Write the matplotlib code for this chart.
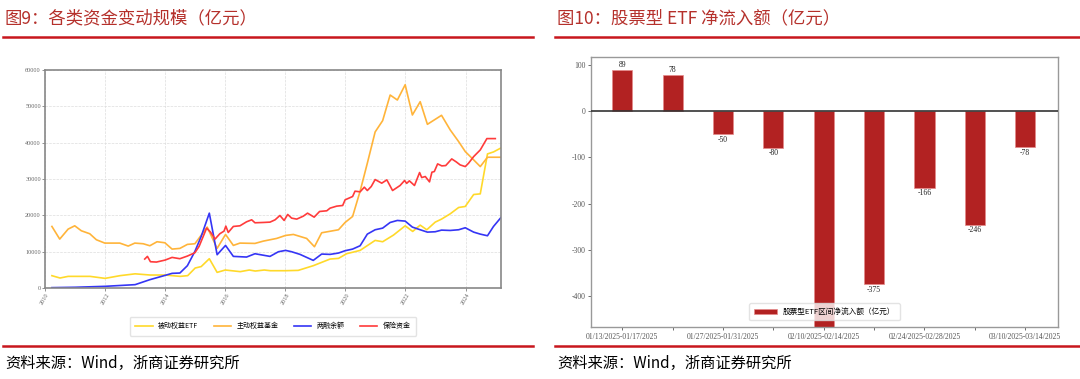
import matplotlib
matplotlib.use("Agg")
import matplotlib.pyplot as plt
from matplotlib.lines import Line2D

plt.rcParams['font.family'] = ['Noto Sans CJK SC', 'DejaVu Sans']

# ---- left chart data (decimal year, 亿元) ----
etf_t = [2010.23, 2010.5, 2010.77, 2011.5, 2012.0, 2012.5, 2013.0, 2013.5, 2014.0, 2014.5,
         2014.75, 2015.0, 2015.2, 2015.47, 2015.73, 2016.0, 2016.5, 2016.8, 2017.0, 2017.3,
         2017.5, 2018.0, 2018.43, 2018.93, 2019.49, 2019.77, 2020.04, 2020.49, 2020.99, 2021.24,
         2021.6, 2021.99, 2022.24, 2022.49, 2022.71, 2022.99, 2023.2, 2023.49, 2023.77, 2023.99,
         2024.27, 2024.49, 2024.73, 2024.93, 2025.18]
etf_v = [3390, 2750, 3200, 3200, 2650, 3400, 3900, 3570, 3570, 3200,
         3400, 5500, 5900, 8060, 4300, 4950, 4500, 4950, 4670, 4950,
         4760, 4760, 4850, 6140, 7970, 8150, 9430, 10350, 13100, 12730,
         14560, 17120, 15570, 17300, 16030, 18130, 18960, 20420, 22160, 22440,
         25730, 25910, 36900, 37450, 38550]

fund_t = [2010.23, 2010.49, 2010.77, 2010.99, 2011.21, 2011.49, 2011.71, 2011.99, 2012.49, 2012.77,
          2012.99, 2013.27, 2013.49, 2013.73, 2013.99, 2014.23, 2014.49, 2014.74, 2014.99, 2015.4,
          2015.73, 2016.01, 2016.27, 2016.49, 2016.99, 2017.27, 2017.71, 2018.01, 2018.27, 2018.71,
          2018.97, 2019.21, 2019.77, 2019.99, 2020.24, 2020.49, 2020.73, 2020.99, 2021.24, 2021.49,
          2021.73, 2021.99, 2022.23, 2022.49, 2022.73, 2023.2, 2023.49, 2023.77, 2023.99, 2024.27,
          2024.49, 2024.73, 2025.18]
fund_v = [16940, 13460, 16210, 17120, 15750, 14930, 13280, 12360, 12360, 11540,
          12360, 12180, 11630, 12730, 12450, 10710, 10900, 12000, 12180, 16760,
          10900, 14740, 11720, 12360, 12270, 12910, 13640, 14470, 14740, 13640,
          11360, 15200, 16030, 18040, 19690, 26650, 34340, 42950, 46060, 53110,
          51740, 55950, 47620, 51280, 45050, 47530, 43500, 40290, 37550, 35260,
          33420, 35990, 35990]

margin_t = [2010.23, 2011.0, 2012.0, 2013.0, 2013.49, 2014.0, 2014.23, 2014.49, 2014.74, 2014.99,
            2015.2, 2015.47, 2015.73, 2016.01, 2016.27, 2016.71, 2016.99, 2017.49, 2017.77, 2018.01,
            2018.21, 2018.49, 2018.93, 2019.21, 2019.49, 2019.77, 2019.99, 2020.24, 2020.49, 2020.73,
            2020.99, 2021.24, 2021.49, 2021.73, 2021.99, 2022.23, 2022.49, 2022.73, 2022.99, 2023.2,
            2023.49, 2023.77, 2023.99, 2024.27, 2024.49, 2024.73, 2024.93, 2025.18]
margin_v = [100, 200, 460, 920, 2290, 3480, 4030, 4120, 6140, 10070,
            14200, 20600, 9160, 11720, 8700, 8520, 9430, 8700, 9980, 10350,
            9980, 9250, 7600, 9340, 9250, 9620, 10260, 10710, 11630, 14830,
            16030, 16480, 18040, 18590, 18410, 16760, 16030, 15380, 15480, 15930,
            15840, 16030, 16580, 15380, 14830, 14380, 16940, 19410]

ins_t = [2013.32, 2013.41, 2013.51, 2013.71, 2014.0, 2014.23, 2014.49, 2014.74, 2014.99, 2015.13,
         2015.38, 2015.51, 2015.66, 2015.82, 2015.96, 2016.02, 2016.1, 2016.27, 2016.49, 2016.71,
         2016.88, 2016.99, 2017.27, 2017.49, 2017.66, 2017.82, 2017.96, 2018.08, 2018.21, 2018.38,
         2018.6, 2018.74, 2018.96, 2019.14, 2019.38, 2019.49, 2019.71, 2019.91, 2019.99, 2020.24,
         2020.32, 2020.49, 2020.63, 2020.73, 2020.86, 2020.99, 2021.21, 2021.38, 2021.57, 2021.82,
         2021.97, 2022.04, 2022.13, 2022.3, 2022.47, 2022.54, 2022.66, 2022.8, 2022.88, 2022.96,
         2023.07, 2023.21, 2023.34, 2023.54, 2023.69, 2023.82, 2023.99, 2024.1, 2024.27, 2024.49,
         2024.71, 2024.99]
ins_v = [7970, 8700, 7230, 7140, 7690, 8420, 8060, 8790, 9710, 11450,
         16480, 15380, 13460, 14930, 15660, 17030, 15290, 16940, 17120, 18220,
         18770, 17950, 18040, 18130, 18770, 19960, 18590, 20240, 19230, 18960,
         19780, 20600, 19500, 21060, 21250, 21980, 22530, 22710, 24270, 25180,
         26650, 26470, 27750, 26830, 27930, 29850, 28850, 29760, 26830, 28210,
         29580, 28800, 29490, 28210, 31780, 30400, 30680, 29210, 31870, 32050,
         34160, 33610, 33700, 35530, 34710, 33880, 33420, 34340, 36170, 38000,
         41120, 41120]

series_names = ['被动权益ETF', '主动权益基金', '两融余额', '保险资金']
year_ticks = [2010, 2012, 2014, 2016, 2018, 2020, 2022, 2024]

# ---- right chart data ----
weeks = ['01/13/2025-01/17/2025', '01/20/2025-01/24/2025', '01/27/2025-01/31/2025',
         '02/03/2025-02/07/2025', '02/10/2025-02/14/2025', '02/17/2025-02/21/2025',
         '02/24/2025-02/28/2025', '03/03/2025-03/07/2025', '03/10/2025-03/14/2025']
flows = [89, 78, -50, -80, -520, -375, -166, -246, -78]

title_red = '#B5302B'
rule_red = '#C8161D'
serif = ['Liberation Serif', 'DejaVu Serif']

fig = plt.figure(figsize=(10.8, 3.79), dpi=100)

# titles and rules
fig.text(5 / 1080, 1 - 18 / 379, '图9：各类资金变动规模（亿元）', fontsize=12.5,
         color=title_red, va='center', ha='left')
fig.text(557 / 1080, 1 - 18 / 379, '图10：股票型 ETF 净流入额（亿元）', fontsize=12.5,
         color=title_red, va='center', ha='left')
for x0, x1 in [(3, 533), (555, 1080)]:
    fig.add_artist(Line2D([x0 / 1080, x1 / 1080], [1 - 37 / 379] * 2, color=rule_red, lw=1.8))
    fig.add_artist(Line2D([x0 / 1080, x1 / 1080], [1 - 346 / 379] * 2, color=rule_red, lw=1.8))
fig.text(5 / 1080, 1 - 363 / 379, '资料来源：Wind，浙商证券研究所', fontsize=11,
         color='black', va='center', ha='left')
fig.text(557 / 1080, 1 - 363 / 379, '资料来源：Wind，浙商证券研究所', fontsize=11,
         color='black', va='center', ha='left')

# ---- left chart ----
ax1 = fig.add_axes([45 / 1080, 1 - 288 / 379, 456 / 1080, 218 / 379])
ax1.plot(etf_t, etf_v, color='#FFD92A', lw=1.2, label=series_names[0])
ax1.plot(fund_t, fund_v, color='#FFB43A', lw=1.2, label=series_names[1])
ax1.plot(margin_t, margin_v, color='#3535F5', lw=1.2, label=series_names[2])
ax1.plot(ins_t, ins_v, color='#FF3B3B', lw=1.2, label=series_names[3])
ax1.set_xlim(2010, 2025.18)
ax1.set_ylim(0, 60000)
ax1.set_xticks(year_ticks)
ax1.set_xticklabels([str(y) for y in year_ticks], rotation=60, fontsize=4.5, family=serif,
                    color='#444444')
ax1.set_yticks(range(0, 60001, 10000))
ax1.set_yticklabels([str(v) for v in range(0, 60001, 10000)], fontsize=4.5, family=serif,
                    color='#444444')
ax1.tick_params(length=2, width=0.5, pad=1, colors='#666666')
ax1.grid(True, ls='--', lw=0.5, color='#DDDDDD')
for s in ax1.spines.values():
    s.set_color('#888888')
    s.set_linewidth(1.2)
ax1.legend(loc='upper center', bbox_to_anchor=(0.5, -0.115), ncol=4, fontsize=5,
           frameon=True, edgecolor='#DDDDDD', handlelength=2.5, columnspacing=2.2,
           borderpad=0.8)

# ---- right chart ----
ax2 = fig.add_axes([591 / 1080, 1 - 327 / 379, 467 / 1080, 270 / 379])
xs = list(range(len(flows)))
bars = ax2.bar(xs, flows, width=0.4, color='#B22222', edgecolor='#E58A8A', lw=0.5,
               label='股票型ETF区间净流入额（亿元）', zorder=2)
ax2.axhline(0, color='#333333', lw=1.2, zorder=3)
ax2.set_xlim(-0.62, 8.65)
ax2.set_ylim(-467, 117)
for x, v in zip(xs, flows):
    ax2.text(x, v + (2 if v > 0 else -3), str(v), ha='center', va='bottom' if v > 0 else 'top',
             fontsize=5.5, family=serif, color='#222222', clip_on=True)
ax2.set_xticks(xs)
ax2.set_xticklabels([w if i % 2 == 0 else '' for i, w in enumerate(weeks)], fontsize=5.5,
                    family=serif, color='#333333')
ax2.set_yticks([100, 0, -100, -200, -300, -400])
ax2.set_yticklabels(['100', '0', '-100', '-200', '-300', '-400'], fontsize=5.5, family=serif,
                    color='#333333')
ax2.tick_params(length=2.5, width=0.6, pad=1.5, colors='#555555')
for s in ax2.spines.values():
    s.set_color('#999999')
    s.set_linewidth(1.0)
ax2.legend(loc='lower center', fontsize=5.5, frameon=True, edgecolor='#DDDDDD',
           handlelength=3, borderpad=0.6, bbox_to_anchor=(0.5, 0.01))

fig.savefig('out.png', dpi=100)
